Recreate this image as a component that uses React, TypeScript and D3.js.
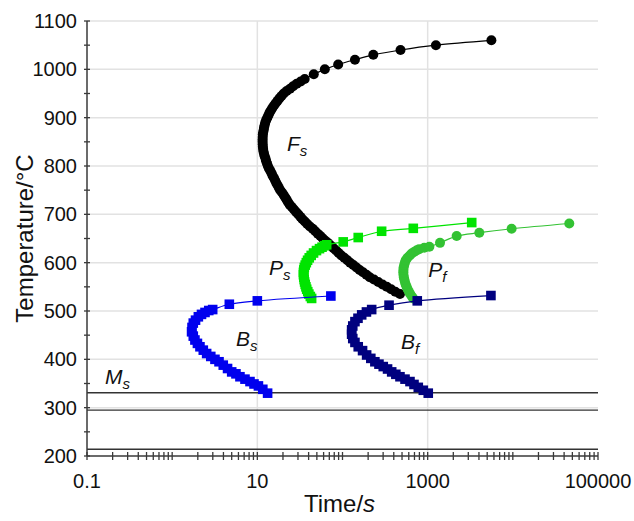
import React, { useEffect, useRef } from 'react';
import * as d3 from 'd3';

// [time (s), temperature (°C)]
const fsPoints: [number, number][] = [
  [5600, 1060], [1250, 1050], [480, 1040], [230, 1030], [140, 1020], [89, 1010],
  [62, 1000], [46, 990], [36, 980], [32.3, 975], [29.0, 970], [26.3, 965], [24.2, 960],
  [22.1, 955], [20.4, 950], [19.2, 945], [18.2, 940], [17.3, 935], [16.4, 930],
  [15.7, 925], [15.0, 920], [14.4, 915], [13.9, 910], [13.5, 905], [13.1, 900],
  [12.7, 895], [12.4, 890], [12.2, 885], [12.0, 880], [11.9, 875], [11.7, 870],
  [11.6, 865], [11.56, 860], [11.53, 855], [11.53, 850], [11.56, 845], [11.6, 840],
  [11.7, 835], [11.8, 830], [12.0, 825], [12.2, 820], [12.5, 815], [12.7, 810],
  [13.0, 805], [13.3, 800], [13.7, 795], [14.2, 790], [14.7, 785], [15.1, 780],
  [15.7, 775], [16.2, 770], [16.7, 765], [17.3, 760], [17.9, 755], [18.6, 750],
  [19.5, 745], [20.4, 740], [21.3, 735], [22.1, 730], [23.0, 725], [24.0, 720],
  [25.4, 715], [26.9, 710], [28.5, 705], [30.2, 700], [32.0, 695], [33.9, 690],
  [36.1, 685], [38.5, 680], [41.4, 675], [44.7, 670], [47.9, 665], [51.3, 660],
  [55.0, 655], [58.9, 650], [63.4, 645], [68.4, 640], [73.3, 635], [78.5, 630],
  [84.1, 625], [90.2, 620], [97.0, 615], [105, 610], [114, 605], [123, 600],
  [134, 595], [146, 590], [159, 585], [174, 580], [191, 575], [209, 570],
  [234, 565], [263, 560], [295, 555], [331, 550], [372, 545], [417, 540], [473, 535]
];

const psPoints: [number, number][] = [
  [43.4, 526], [41.9, 530], [40.3, 535], [39.1, 540], [38.0, 545], [37.2, 550],
  [36.5, 555], [35.9, 560], [35.5, 565], [35.1, 570], [34.8, 575], [34.8, 580],
  [35.1, 585], [35.6, 590], [36.5, 595], [37.6, 600], [38.9, 605], [40.7, 610],
  [42.9, 615], [45.7, 620], [49.5, 625], [53.7, 629], [57.5, 632], [61.7, 635],
  [65.2, 637], [102, 643], [153, 652], [288, 665], [678, 671], [3290, 683]
];

const pfPoints: [number, number][] = [
  [678, 526], [653, 530], [624, 535], [603, 540], [582, 545], [566, 550],
  [552, 555], [541, 560], [532, 565], [525, 570], [520, 575], [518, 580],
  [519, 585], [522, 590], [530, 595], [540, 600], [552, 605], [579, 610],
  [617, 615], [649, 619], [692, 622], [738, 625], [794, 628], [912, 631],
  [1047, 633], [1396, 641], [2190, 655], [4040, 662], [9680, 670], [46000, 681]
];

const bsPoints: [number, number][] = [
  [13.2, 330], [11.6, 338], [10.3, 345], [9.14, 349], [8.2, 354], [7.16, 359],
  [6.25, 364], [5.61, 370], [5.0, 374], [4.47, 381], [3.98, 388], [3.55, 395],
  [3.18, 400], [2.84, 406], [2.54, 412], [2.32, 419], [2.12, 426], [1.98, 433],
  [1.85, 440], [1.77, 448], [1.69, 457], [1.71, 466], [1.77, 475], [1.88, 481],
  [2.03, 488], [2.21, 493], [2.43, 497], [2.69, 501], [2.99, 503], [4.69, 514],
  [10, 521], [73, 531]
];

const bfPoints: [number, number][] = [
  [1016, 330], [889, 336], [776, 342], [691, 348], [620, 354], [542, 359],
  [473, 364], [423, 369], [378, 374], [338, 380], [301, 385], [268, 390],
  [240, 395], [215, 402], [192, 409], [172, 418], [153, 426], [140, 435],
  [132, 443], [128, 452], [128, 461], [132, 469], [140, 478], [152, 485],
  [168, 492], [191, 498], [220, 503], [352, 512], [755, 521], [5530, 532]
];

const hLines = [331, 295, 214];
const yTicks = [200, 300, 400, 500, 600, 700, 800, 900, 1000, 1100];
const xTickLabels = [0.1, 10, 1000, 100000];
const xGrid = [10, 1000];

const series = [
  { name: 'Fs', data: fsPoints, color: '#000000', shape: 'circle' },
  { name: 'Ps', data: psPoints, color: '#00e400', shape: 'square' },
  { name: 'Pf', data: pfPoints, color: '#33c233', shape: 'circle' },
  { name: 'Bs', data: bsPoints, color: '#0000ee', shape: 'square' },
  { name: 'Bf', data: bfPoints, color: '#00007f', shape: 'square' }
];

// label anchor: [time, temperature] of the baseline start
const labels = [
  { main: 'F', sub: 's', t: 22.3, T: 831 },
  { main: 'P', sub: 's', t: 13.7, T: 574 },
  { main: 'P', sub: 'f', t: 1016, T: 570 },
  { main: 'B', sub: 's', t: 5.6, T: 427 },
  { main: 'B', sub: 'f', t: 486, T: 421 },
  { main: 'M', sub: 's', t: 0.163, T: 349 }
];

const App = () => {
  const svgRef = useRef<SVGSVGElement>(null);

  useEffect(() => {
    const svg = d3.select(svgRef.current);
    svg.selectAll('*').remove();

    const font = "'Liberation Sans', Arial, sans-serif";

    const x = d3.scaleLog().domain([0.1, 100000]).range([87, 598]);
    const y = d3.scaleLinear().domain([200, 1100]).range([456, 21]);
    const [x0, x1] = x.range();

    // grid
    svg.append('g')
      .selectAll('line')
      .data(yTicks.slice(1))
      .enter().append('line')
      .attr('x1', x0).attr('x2', x1)
      .attr('y1', d => y(d)).attr('y2', d => y(d))
      .attr('stroke', '#e2e2e2').attr('stroke-width', 1.5);

    svg.append('g')
      .selectAll('line')
      .data(xGrid)
      .enter().append('line')
      .attr('x1', d => x(d)).attr('x2', d => x(d))
      .attr('y1', y(1100)).attr('y2', y(200))
      .attr('stroke', '#e2e2e2').attr('stroke-width', 1.5);

    // horizontal reference lines
    svg.append('g')
      .selectAll('line')
      .data(hLines)
      .enter().append('line')
      .attr('x1', x0).attr('x2', x1)
      .attr('y1', d => y(d)).attr('y2', d => y(d))
      .attr('stroke', '#333').attr('stroke-width', 1.4);

    // axes
    const axisColor = '#3a3a3a';
    svg.append('line')
      .attr('x1', x0).attr('x2', x0).attr('y1', y(1100)).attr('y2', y(200))
      .attr('stroke', axisColor).attr('stroke-width', 1.5);
    svg.append('line')
      .attr('x1', x0).attr('x2', x1).attr('y1', y(200)).attr('y2', y(200))
      .attr('stroke', axisColor).attr('stroke-width', 1.5);

    const yMinor = d3.range(200, 1101, 50);
    svg.append('g')
      .selectAll('line')
      .data(yMinor)
      .enter().append('line')
      .attr('x1', x0 - 3).attr('x2', x0 + 3)
      .attr('y1', d => y(d)).attr('y2', d => y(d))
      .attr('stroke', axisColor).attr('stroke-width', 1.3);

    const xMinor: number[] = [];
    for (let e = -1; e < 5; e++) {
      for (let m = 1; m <= 9; m++) xMinor.push(m * Math.pow(10, e));
    }
    xMinor.push(100000);
    svg.append('g')
      .selectAll('line')
      .data(xMinor)
      .enter().append('line')
      .attr('x1', d => x(d)).attr('x2', d => x(d))
      .attr('y1', y(200) - 4).attr('y2', y(200) + 4)
      .attr('stroke', axisColor).attr('stroke-width', 1.3);

    svg.append('g')
      .selectAll('text')
      .data(yTicks)
      .enter().append('text')
      .attr('x', x0 - 10)
      .attr('y', d => y(d) + 7)
      .attr('text-anchor', 'end')
      .style('font-family', font)
      .style('font-size', '20px')
      .attr('fill', '#111')
      .text(d => d);

    svg.append('g')
      .selectAll('text')
      .data(xTickLabels)
      .enter().append('text')
      .attr('x', d => x(d))
      .attr('y', 488)
      .attr('text-anchor', 'middle')
      .style('font-family', font)
      .style('font-size', '20px')
      .attr('fill', '#111')
      .text(d => String(d));

    // axis titles
    svg.append('text')
      .attr('transform', `translate(33,${(y(1100) + y(200)) / 2}) rotate(-90)`)
      .attr('text-anchor', 'middle')
      .style('font-family', font)
      .style('font-size', '24px')
      .attr('fill', '#111')
      .text('Temperature/°C');

    const xt = svg.append('text')
      .attr('x', (x0 + x1) / 2 - 3)
      .attr('y', 512)
      .attr('text-anchor', 'middle')
      .style('font-family', font)
      .style('font-size', '24px')
      .attr('fill', '#111');
    xt.append('tspan').text('Time/');
    xt.append('tspan').style('font-style', 'italic').text('s');

    // series
    const line = d3.line<[number, number]>()
      .x(d => x(d[0]))
      .y(d => y(d[1]))
      .curve(d3.curveCatmullRom);

    series.forEach(s => {
      const g = svg.append('g');
      g.append('path')
        .datum(s.data)
        .attr('fill', 'none')
        .attr('stroke', s.color)
        .attr('stroke-width', 1.2)
        .attr('d', line);

      if (s.shape === 'circle') {
        g.selectAll('circle')
          .data(s.data)
          .enter().append('circle')
          .attr('cx', d => x(d[0]))
          .attr('cy', d => y(d[1]))
          .attr('r', 5)
          .attr('fill', s.color);
      } else {
        g.selectAll('rect')
          .data(s.data)
          .enter().append('rect')
          .attr('x', d => x(d[0]) - 4.8)
          .attr('y', d => y(d[1]) - 4.8)
          .attr('width', 9.6)
          .attr('height', 9.6)
          .attr('fill', s.color);
      }
    });

    // curve labels
    labels.forEach(l => {
      const t = svg.append('text')
        .attr('x', x(l.t))
        .attr('y', y(l.T))
        .style('font-family', font)
        .style('font-style', 'italic')
        .style('font-size', '21px')
        .attr('fill', '#111');
      t.append('tspan').text(l.main);
      t.append('tspan')
        .attr('dy', 5)
        .style('font-size', '15px')
        .text(l.sub);
    });
  }, []);

  return (
    <div style={{ position: 'absolute', left: 0, top: 0 }}>
      <svg ref={svgRef} width={634} height={521} style={{ display: 'block', background: '#fff' }} />
    </div>
  );
};

export default App;
